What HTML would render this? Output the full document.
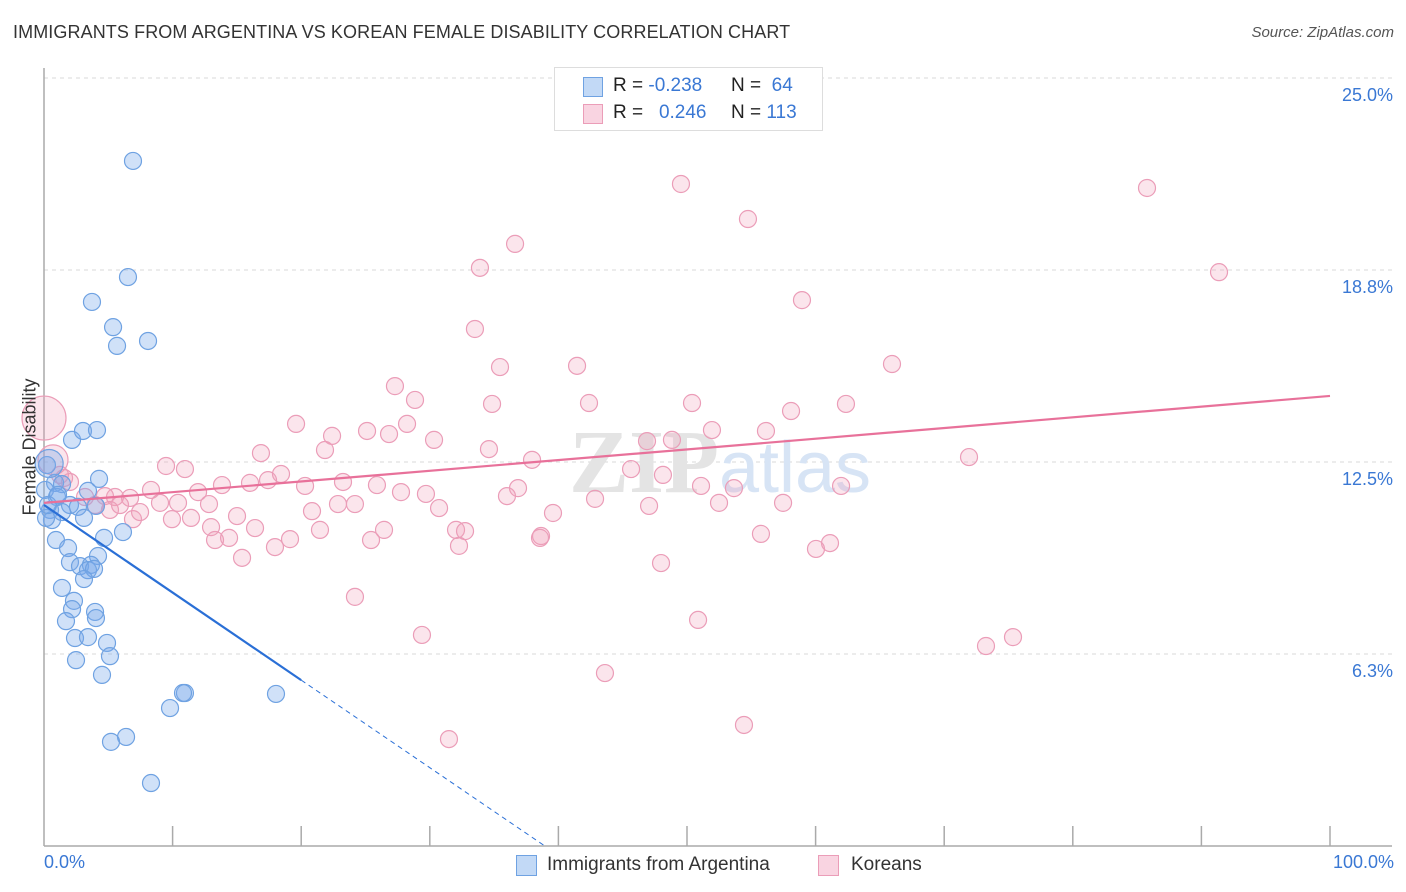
<!DOCTYPE html>
<html><head><meta charset="utf-8">
<style>
body{margin:0;background:#fff;font-family:"Liberation Sans",sans-serif;}
#wrap{position:relative;width:1406px;height:892px;overflow:hidden;}
.t{position:absolute;white-space:nowrap;}
</style></head>
<body>
<div id="wrap">
<div class="t" style="left:13px;top:22px;font-size:18px;color:#333;letter-spacing:0.1px">IMMIGRANTS FROM ARGENTINA VS KOREAN FEMALE DISABILITY CORRELATION CHART</div>
<div class="t" style="right:12px;top:24px;font-size:15px;color:#555;font-style:italic">Source: ZipAtlas.com</div>
<svg id="plot" width="1406" height="892" style="position:absolute;left:0;top:0"></svg>
</div>
<script>
const blueX=[6.92,6.53,3.73,5.37,5.68,8.09,2.18,3.03,4.12,0.23,4.28,0.86,1.40,3.42,0.08,1.01,2.02,2.64,4.04,0.47,1.40,3.11,0.62,0.16,6.14,0.93,4.67,1.87,4.20,2.02,2.80,3.65,3.42,3.89,3.11,1.40,2.33,2.18,3.97,1.71,4.04,2.41,3.42,4.90,2.49,5.13,4.51,10.96,10.81,18.04,9.80,6.38,5.21,8.32,0.31,1.09];
const blueY=[22.30,18.52,17.71,16.89,16.28,16.44,13.22,13.51,13.54,12.40,11.95,11.82,11.78,11.56,11.59,11.36,11.10,11.04,11.07,10.94,10.87,10.68,10.61,10.68,10.22,9.96,10.03,9.70,9.44,9.24,9.11,9.15,8.98,9.02,8.69,8.40,7.98,7.71,7.62,7.32,7.42,6.77,6.80,6.61,6.05,6.18,5.57,4.98,4.98,4.95,4.49,3.55,3.39,2.05,11.10,11.43];
const pinkX=[59.49,49.53,85.77,54.74,36.63,33.90,91.37,58.94,33.51,35.46,41.45,65.94,27.29,28.85,34.84,42.38,50.39,58.09,62.36,19.60,28.23,25.12,26.83,22.40,30.33,51.94,56.14,46.89,48.83,34.60,21.85,16.87,71.93,37.95,9.49,10.96,45.65,48.13,18.43,20.30,17.42,16.02,13.84,23.25,25.89,8.32,11.98,27.76,29.70,36.86,36.00,42.85,53.65,61.98,51.09,5.52,6.69,9.02,10.42,12.83,20.84,22.86,24.18,30.72,47.05,52.49,57.47,15.01,6.92,9.95,11.43,39.58,12.99,21.46,16.41,26.44,32.04,32.74,38.65,38.57,55.75,13.30,14.39,19.13,25.43,17.96,32.27,61.12,60.03,15.40,47.98,24.18,29.39,50.86,73.25,75.35,43.62,31.49,54.43,4.74,3.97,3.19,2.02,1.24,1.56,5.13,7.47,5.91];
const pinkY=[24.32,21.55,21.42,20.41,19.60,18.82,18.68,17.77,16.83,15.59,15.63,15.69,14.97,14.52,14.39,14.42,14.42,14.16,14.39,13.74,13.74,13.51,13.41,13.35,13.22,13.54,13.51,13.18,13.22,12.92,12.89,12.79,12.66,12.57,12.37,12.27,12.27,12.08,12.11,11.72,11.91,11.82,11.75,11.85,11.75,11.59,11.52,11.52,11.46,11.65,11.39,11.30,11.65,11.72,11.72,11.36,11.33,11.17,11.17,11.13,10.90,11.13,11.13,11.00,11.07,11.17,11.17,10.74,10.64,10.64,10.68,10.84,10.38,10.29,10.35,10.29,10.29,10.25,10.09,10.03,10.16,9.96,10.03,9.99,9.96,9.73,9.77,9.86,9.67,9.38,9.21,8.11,6.87,7.36,6.51,6.80,5.63,3.48,3.94,11.39,11.10,11.36,11.85,12.08,11.98,10.94,10.87,11.10];
const bigPinkX=[0,0.7], bigPinkY=[13.93,12.57], bigPinkR=[22,15];
const bigBlueX=[0.4], bigBlueY=[12.45], bigBlueR=[14];
const yTicks=[6.25,12.5,18.75,25], yTickLabels=["6.3%","12.5%","18.8%","25.0%"];
const blueTrendX=[0,20], blueTrendY=[11.1,5.4];
const pinkTrendX=[0,100], pinkTrendY=[11.17,14.65];

const X0=44,X1=1330,YB=846,PX=30.72;
const sx=v=>X0+(X1-X0)*v/100, sy=v=>YB-v*PX;
const svg=document.getElementById('plot');const NS='http://www.w3.org/2000/svg';
function mk(tag,attrs,parent){const e=document.createElementNS(NS,tag);for(const k in attrs)e.setAttribute(k,attrs[k]);(parent||svg).appendChild(e);return e;}
// gridlines
yTicks.forEach((t,i)=>{
  const g=mk('line',{x1:X0,x2:1392,y1:sy(t),y2:sy(t),stroke:'#d8d8d8','stroke-dasharray':'4,4'});
  
  
  const tx=mk('text',{x:1393,y:sy(t)+23,'text-anchor':'end','font-size':18,fill:'#3a78d4','font-family':'Liberation Sans'});
  tx.textContent=yTickLabels[i];
  
  
});
// axes
const ya=mk('line',{x1:X0,x2:X0,y1:68,y2:YB,stroke:'#aaa','stroke-width':1.5});


const xa=mk('line',{x1:X0,x2:1392,y1:YB,y2:YB,stroke:'#aaa','stroke-width':1.5});


for(let i=1;i<=10;i++){const tk=mk('line',{x1:sx(i*10),x2:sx(i*10),y1:826,y2:YB,stroke:'#aaa','stroke-width':1.5});

}
// watermark
const wm=mk('text',{x:720,y:492,'text-anchor':'middle','font-size':90,fill:'#e4e4e4','font-family':'Liberation Serif','font-weight':'bold'});
wm.innerHTML='ZIP<tspan fill="#d7e4f5" font-family="Liberation Sans" font-weight="normal" font-size="72">atlas</tspan>';


// points
function dot(x,y,r,kind){
  const c=mk('circle',{cx:sx(x),cy:sy(y),r:r,fill:kind==='b'?'rgba(120,170,235,0.35)':'rgba(242,160,188,0.28)',stroke:kind==='b'?'#6fa2e2':'#eb9db8','stroke-width':1.2});
  
  
}
pinkX.forEach((x,i)=>dot(x,pinkY[i],8.5,'p'));
bigPinkX.forEach((x,i)=>dot(x,bigPinkY[i],bigPinkR[i],'p'));
blueX.forEach((x,i)=>dot(x,blueY[i],8.5,'b'));
bigBlueX.forEach((x,i)=>dot(x,bigBlueY[i],bigBlueR[i],'b'));
// trends
const bl=mk('line',{x1:sx(blueTrendX[0]),y1:sy(blueTrendY[0]),x2:sx(blueTrendX[1]),y2:sy(blueTrendY[1]),stroke:'#2a6fd6','stroke-width':2.2});


const slope=(blueTrendY[1]-blueTrendY[0])/(blueTrendX[1]-blueTrendX[0]);const xz=blueTrendX[0]-blueTrendY[0]/slope;
const bd=mk('line',{x1:sx(blueTrendX[1]),y1:sy(blueTrendY[1]),x2:sx(xz),y2:sy(0),stroke:'#2a6fd6','stroke-width':1,'stroke-dasharray':'5,4'});


const pl=mk('line',{x1:sx(pinkTrendX[0]),y1:sy(pinkTrendY[0]),x2:sx(pinkTrendX[1]),y2:sy(pinkTrendY[1]),stroke:'#e8719a','stroke-width':2.2});


</script>
<div class="t" style="left:-30px;top:445px;font-size:18px;color:#333;transform:rotate(-90deg);transform-origin:center;width:120px;text-align:center">Female Disability</div>
<div class="t" style="left:44px;top:852px;font-size:18px;color:#3a78d4">0.0%</div>
<div class="t" style="right:12px;top:852px;font-size:18px;color:#3a78d4">100.0%</div>
<div style="position:absolute;left:554px;top:67px;width:267px;height:62px;border:1px solid #ddd;background:#fff;font-size:19px;color:#222">
 <div style="position:absolute;left:28px;top:9px;width:18px;height:18px;background:rgba(120,170,235,0.45);border:1px solid #6fa2e2"></div>
 <div class="t" style="left:58px;top:7px">R = <span style="color:#3a78d4">-0.238</span></div>
 <div class="t" style="left:176px;top:7px">N = &nbsp;<span style="color:#3a78d4">64</span></div>
 <div style="position:absolute;left:28px;top:36px;width:18px;height:18px;background:rgba(242,160,188,0.45);border:1px solid #eb9db8"></div>
 <div class="t" style="left:58px;top:34px">R = &nbsp;&nbsp;<span style="color:#3a78d4">0.246</span></div>
 <div class="t" style="left:176px;top:34px">N = <span style="color:#3a78d4">113</span></div>
</div>
<div style="position:absolute;left:516px;top:854px;font-size:19px;color:#333">
 <div style="position:absolute;left:0;top:1px;width:19px;height:19px;background:rgba(120,170,235,0.45);border:1px solid #6fa2e2"></div>
 <div class="t" style="left:31px;top:0">Immigrants from Argentina</div>
</div>
<div style="position:absolute;left:818px;top:854px;font-size:19px;color:#333">
 <div style="position:absolute;left:0;top:1px;width:19px;height:19px;background:rgba(242,160,188,0.45);border:1px solid #eb9db8"></div>
 <div class="t" style="left:33px;top:0">Koreans</div>
</div>
</body></html>
